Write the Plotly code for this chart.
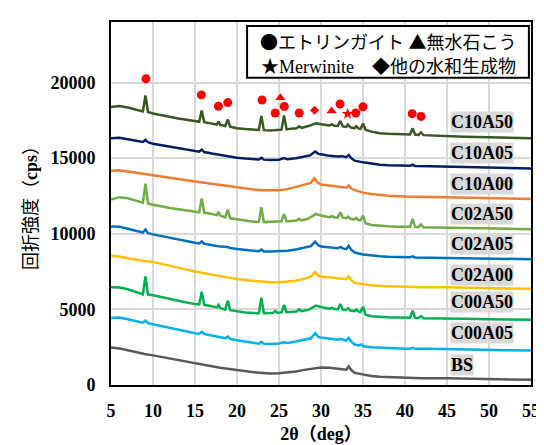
import plotly.graph_objects as go

# ---------------- data ----------------
c10a50_x = [5, 6, 7, 8, 8.8, 9.1, 9.4, 10, 11, 12, 13, 14, 15, 15.5, 15.8, 16.1, 17, 17.6, 17.8, 18.0, 18.6, 18.9, 19.2, 20, 21, 22, 22.6, 22.9, 23.2, 24, 25, 25.3, 25.6, 25.9, 26.5, 27.1, 27.4, 27.7, 28.5, 29.0, 29.4, 30, 31, 31.3, 31.6, 32.0, 32.3, 32.6, 33.0, 33.2, 33.5, 34.0, 34.2, 34.5, 34.7, 35.0, 35.3, 36, 37, 38, 39, 40, 40.6, 40.9, 41.2, 41.6, 41.9, 42.2, 43, 45, 47, 50, 52, 55]
c10a50_y = [18380, 18450, 18350, 18200, 18080, 19150, 18050, 17950, 17830, 17720, 17620, 17540, 17450, 17400, 18150, 17380, 17280, 17220, 17420, 17200, 17120, 17550, 17080, 16980, 16920, 16880, 16860, 17780, 16850, 16830, 16860, 16880, 17820, 16900, 16950, 16980, 17100, 17000, 17120, 17200, 17300, 17240, 17160, 17230, 17140, 17130, 17460, 17100, 17060, 17220, 17030, 16980, 17100, 16950, 16930, 17290, 16880, 16750, 16650, 16610, 16580, 16560, 16560, 16980, 16560, 16540, 16700, 16520, 16500, 16440, 16420, 16380, 16350, 16320]

c10a05_x = [5, 6, 7, 8, 8.8, 9.1, 9.4, 10, 11, 12, 13, 14, 15, 15.5, 15.8, 16.1, 17, 18, 18.9, 20, 21, 22, 22.6, 22.9, 23.2, 24, 25, 25.6, 26, 27, 28, 28.7, 29.3, 29.7, 30, 31, 32, 32.5, 33.0, 33.3, 33.6, 34, 35, 36, 37, 38, 39, 40, 40.6, 40.9, 41.2, 43, 45, 47, 50, 52, 55]
c10a05_y = [16320, 16350, 16250, 16150, 16070, 16200, 16050, 15950, 15850, 15740, 15640, 15550, 15460, 15420, 15560, 15400, 15300, 15200, 15150, 15030, 14970, 14930, 14910, 15020, 14900, 14870, 14900, 15000, 14920, 14990, 15080, 15180, 15430, 15280, 15250, 15150, 15110, 15130, 15060, 15200, 15000, 14830, 14720, 14620, 14560, 14530, 14510, 14490, 14490, 14570, 14480, 14460, 14430, 14400, 14370, 14350, 14320]

c10a00_x = [5, 6, 7, 8, 9, 10, 11, 12, 13, 14, 15, 16, 17, 18, 19, 20, 21, 22, 23, 24, 25, 26, 27, 28, 28.8, 29.2, 29.6, 30, 31, 32, 33.0, 33.3, 33.6, 34, 35, 36, 37, 38, 40, 42, 45, 47, 50, 52, 55]
c10a00_y = [14170, 14200, 14120, 14030, 13960, 13890, 13790, 13700, 13620, 13540, 13460, 13380, 13300, 13230, 13160, 13095, 13010, 12930, 12880, 12850, 12870, 12950, 13090, 13220, 13360, 13680, 13380, 13260, 13190, 13120, 13040, 13200, 13000, 12880, 12720, 12630, 12560, 12510, 12460, 12440, 12420, 12380, 12340, 12320, 12300]

c02a50_x = [5, 6, 7, 8, 8.8, 9.1, 9.4, 10, 11, 12, 13, 14, 15, 15.5, 15.8, 16.1, 17, 17.6, 17.8, 18.0, 18.6, 18.9, 19.2, 20, 21, 22, 22.6, 22.9, 23.2, 24, 25, 25.3, 25.6, 25.9, 26.5, 27.1, 27.4, 27.7, 28.5, 29.0, 29.4, 30, 31, 31.3, 31.6, 32.0, 32.3, 32.6, 33.0, 33.2, 33.5, 34.0, 34.2, 34.5, 34.7, 35.0, 35.3, 36, 37, 38, 39, 40, 40.6, 40.9, 41.2, 41.6, 41.9, 42.2, 43, 45, 47, 50, 52, 55]
c02a50_y = [12270, 12420, 12350, 12200, 12050, 13310, 12000, 11920, 11800, 11700, 11620, 11540, 11470, 11420, 12340, 11400, 11300, 11230, 11450, 11200, 11080, 11600, 11020, 10950, 10870, 10800, 10780, 11760, 10770, 10770, 10800, 10820, 11300, 10830, 10850, 10870, 10980, 10880, 11000, 11150, 11310, 11200, 11100, 11160, 11080, 11080, 11420, 11060, 11030, 11130, 10990, 10950, 11050, 10900, 10880, 11200, 10700, 10580, 10520, 10490, 10470, 10460, 10460, 10980, 10460, 10440, 10620, 10430, 10420, 10400, 10370, 10340, 10320, 10300]

c02a05_x = [5, 6, 7, 8, 8.8, 9.1, 9.4, 10, 11, 12, 13, 14, 15, 15.5, 15.8, 16.1, 17, 18, 18.9, 19.2, 20, 21, 22, 22.6, 22.9, 23.2, 24, 25, 26, 27, 28, 28.8, 29.3, 29.7, 30, 31, 32, 32.3, 32.6, 33.0, 33.3, 33.6, 34, 35, 36, 37, 38, 40, 40.6, 40.9, 41.2, 43, 45, 47, 50, 52, 55]
c02a05_y = [10480, 10470, 10330, 10180, 10080, 10280, 10040, 9960, 9840, 9720, 9610, 9510, 9400, 9360, 9500, 9340, 9240, 9150, 9120, 9060, 8990, 8920, 8870, 8840, 8960, 8830, 8820, 8840, 8880, 8960, 9060, 9180, 9480, 9230, 9150, 9080, 9040, 9130, 9030, 8980, 9200, 8950, 8760, 8630, 8560, 8520, 8480, 8440, 8440, 8510, 8430, 8410, 8400, 8370, 8350, 8340, 8320]

c02a00_x = [5, 6, 7, 8, 9, 10, 11, 12, 13, 14, 15, 16, 17, 18, 19, 20, 21, 22, 23, 24, 25, 26, 27, 28, 28.8, 29.3, 29.7, 30, 31, 32, 33.0, 33.3, 33.6, 34, 35, 36, 37, 38, 40, 42, 45, 47, 50, 52, 55]
c02a00_y = [8540, 8500, 8380, 8270, 8200, 8140, 8000, 7880, 7760, 7630, 7500, 7390, 7290, 7190, 7100, 7010, 6930, 6880, 6850, 6800, 6800, 6830, 6900, 7020, 7170, 7460, 7220, 7180, 7130, 7080, 7000, 7180, 6950, 6750, 6650, 6590, 6550, 6530, 6480, 6470, 6460, 6430, 6400, 6380, 6360]

c00a50_x = [5, 6, 7, 8, 8.8, 9.1, 9.4, 10, 11, 12, 13, 14, 15, 15.5, 15.8, 16.1, 17, 17.6, 17.8, 18.0, 18.6, 18.9, 19.2, 20, 21, 22, 22.6, 22.9, 23.2, 24, 24.3, 24.55, 24.8, 25.3, 25.6, 25.9, 26.5, 27.1, 27.4, 27.7, 28.5, 29.0, 29.4, 30, 31, 31.3, 31.6, 32.0, 32.3, 32.6, 33.0, 33.2, 33.5, 34.0, 34.2, 34.5, 34.7, 35.0, 35.3, 36, 37, 38, 39, 40, 40.6, 40.9, 41.2, 41.6, 41.9, 42.2, 43, 45, 47, 50, 52, 55]
c00a50_y = [6470, 6450, 6330, 6160, 6000, 7180, 5980, 5930, 5800, 5680, 5560, 5450, 5360, 5330, 6170, 5300, 5200, 5130, 5300, 5100, 4990, 5570, 4950, 4870, 4800, 4760, 4750, 5780, 4750, 4760, 4770, 4900, 4780, 4800, 5290, 4810, 4830, 4860, 5000, 4880, 4970, 5100, 5250, 5160, 5050, 5100, 5020, 5010, 5360, 4990, 4960, 5080, 4920, 4880, 4990, 4850, 4820, 5180, 4650, 4550, 4500, 4480, 4460, 4440, 4440, 4920, 4440, 4430, 4560, 4420, 4420, 4420, 4380, 4350, 4330, 4320]

c00a05_x = [5, 6, 7, 8, 8.8, 9.1, 9.4, 10, 11, 12, 13, 14, 15, 15.5, 15.8, 16.1, 17, 18, 18.6, 18.9, 19.2, 20, 21, 22, 22.6, 22.9, 23.2, 24, 25, 25.6, 26, 27, 28, 28.8, 29.3, 29.7, 30, 31, 32, 32.3, 33.0, 33.3, 33.6, 34, 34.5, 34.8, 35.1, 36, 37, 38, 40, 40.6, 40.9, 41.2, 43, 45, 47, 50, 52, 55]
c00a05_y = [4430, 4460, 4350, 4220, 4120, 4260, 4090, 4020, 3890, 3760, 3640, 3520, 3420, 3390, 3520, 3370, 3260, 3150, 3090, 3200, 3050, 2960, 2870, 2770, 2730, 2860, 2720, 2710, 2750, 2830, 2780, 2880, 2980, 3090, 3420, 3170, 3140, 3060, 3000, 3060, 2940, 3120, 2860, 2680, 2620, 2680, 2560, 2500, 2460, 2440, 2400, 2400, 2460, 2390, 2390, 2380, 2350, 2320, 2300, 2280]

bs_x = [5, 6, 7, 8, 9, 10, 11, 12, 13, 14, 15, 16, 17, 18, 19, 20, 21, 22, 23, 24, 25, 26, 27, 28, 29, 30, 31, 32, 33.0, 33.3, 33.6, 34, 35, 36, 37, 38, 40, 42, 45, 47, 50, 52, 55]
bs_y = [2480, 2420, 2300, 2160, 2050, 1960, 1850, 1740, 1630, 1530, 1440, 1340, 1240, 1140, 1060, 990, 920, 850, 800, 760, 780, 830, 900, 1000, 1100, 1160, 1140, 1070, 1010, 1230, 990, 800, 670, 590, 540, 515, 460, 440, 440, 420, 380, 360, 340]

series_names = ["C10A50", "C10A05", "C10A00", "C02A50", "C02A05", "C02A00", "C00A50", "C00A05", "BS"]
series_x = [c10a50_x, c10a05_x, c10a00_x, c02a50_x, c02a05_x, c02a00_x, c00a50_x, c00a05_x, bs_x]
series_y = [c10a50_y, c10a05_y, c10a00_y, c02a50_y, c02a05_y, c02a00_y, c00a50_y, c00a05_y, bs_y]
series_colors = ["#385723", "#002060", "#ED7D31", "#70AD47", "#0070C0", "#FFC000", "#00B050", "#00B0F0", "#595959"]
label_y = [17420, 15360, 13290, 11290, 9290, 7290, 5480, 3420, 1290]

# phase markers
ett_x = [9.16, 15.76, 17.79, 18.90, 22.98, 24.55, 25.63, 27.41, 32.27, 34.14, 34.99, 40.86, 41.91]
ett_y = [20240, 19180, 18430, 18670, 18840, 17980, 18410, 17980, 18580, 17980, 18390, 17940, 17760]
anh_x = [25.16, 31.26]
anh_y = [18990, 18110]
mer_x = [33.17]
mer_y = [17920]
oth_x = [29.24]
oth_y = [18170]

x_ticks = [5, 10, 15, 20, 25, 30, 35, 40, 45, 50, 55]
y_ticks = [0, 5000, 10000, 15000, 20000]
y_ticktext = ["0", "5000", "10000", "15000", "20000"]

# ---------------- figure ----------------
SERIF = "Liberation Serif, Times New Roman, Noto Sans CJK JP, serif"
SYM = '<span style="font-family:Noto Sans CJK JP">{}</span>'
legend_line1 = SYM.format("●") + "エトリンガイト " + SYM.format("▲") + "無水石こう"
legend_line2 = SYM.format("★") + "Merwinite　" + SYM.format("◆") + "他の水和生成物"

fig = go.Figure()

for name, xs, ys, col in zip(series_names, series_x, series_y, series_colors):
    fig.add_trace(go.Scatter(x=xs, y=ys, mode="lines", name=name,
                             line=dict(color=col, width=2.5), showlegend=False))

red = "#FF0000"
fig.add_trace(go.Scatter(x=ett_x, y=ett_y, mode="markers", showlegend=False,
                         marker=dict(symbol="circle", size=9, color=red)))
fig.add_trace(go.Scatter(x=anh_x, y=anh_y, mode="markers", showlegend=False,
                         marker=dict(symbol="triangle-up", size=9, color=red)))
fig.add_trace(go.Scatter(x=mer_x, y=mer_y, mode="markers", showlegend=False,
                         marker=dict(symbol="star", size=9, color=red)))
fig.add_trace(go.Scatter(x=oth_x, y=oth_y, mode="markers", showlegend=False,
                         marker=dict(symbol="diamond", size=7, color=red)))

for name, ly in zip(series_names, label_y):
    fig.add_annotation(x=45.3, y=ly, xref="x", yref="y", text=name, showarrow=False,
                       xanchor="left", yanchor="middle", bgcolor="#D9D9D9", borderpad=0,
                       font=dict(family=SERIF, size=18, color="black", weight="bold"))

# legend box
fig.add_shape(type="rect", xref="x", yref="y", x0=21.2, x1=54.75, y0=20320, y1=23740,
              line=dict(color="black", width=2), fillcolor="white", layer="above")
fig.add_annotation(x=38.0, y=22770, xref="x", yref="y", text=legend_line1, showarrow=False,
                   font=dict(family=SERIF, size=18, color="black"))
fig.add_annotation(x=38.0, y=21160, xref="x", yref="y", text=legend_line2, showarrow=False,
                   font=dict(family=SERIF, size=18, color="black"))

fig.update_xaxes(range=[5, 55], tickvals=x_ticks, showgrid=True, gridcolor="#D9D9D9", gridwidth=1.5,
                 showline=True, linecolor="black", linewidth=2, mirror=True, zeroline=False,
                 ticks="outside", ticklen=8, tickcolor="rgba(0,0,0,0)",
                 tickfont=dict(family=SERIF, size=18, color="black", weight="bold"),
                 title=dict(text="2θ（deg）", standoff=8,
                            font=dict(family=SERIF, size=18, color="black", weight="bold")))
fig.update_yaxes(range=[0, 24000], tickvals=y_ticks, ticktext=y_ticktext, showgrid=True,
                 gridcolor="#D9D9D9", gridwidth=1.5,
                 showline=True, linecolor="black", linewidth=2, mirror=True, zeroline=False,
                 ticks="outside", ticklen=10, tickcolor="rgba(0,0,0,0)",
                 tickfont=dict(family=SERIF, size=18, color="black", weight="bold"),
                 title=dict(text="回折強度（<b>cps</b>）", standoff=8,
                            font=dict(family=SERIF, size=18, color="black")))

fig.update_layout(width=544, height=445, margin=dict(l=103, r=12, t=12, b=62),
                  plot_bgcolor="white", paper_bgcolor="white")

fig.write_html("out.html")
